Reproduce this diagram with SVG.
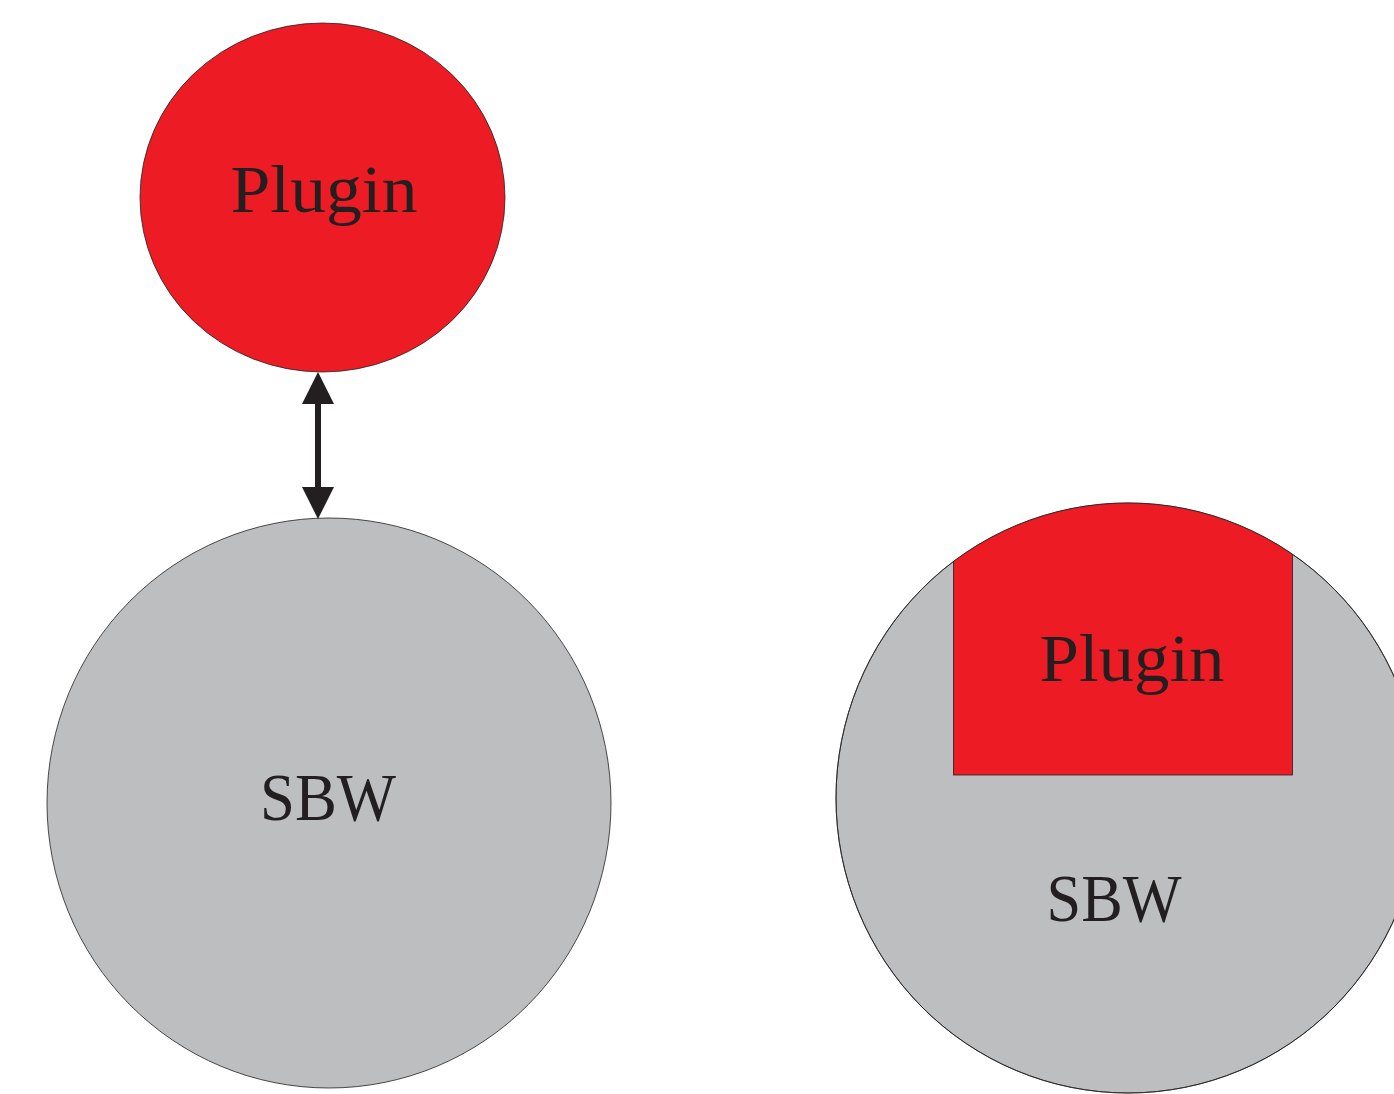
<svg xmlns="http://www.w3.org/2000/svg" width="1394" height="1094" viewBox="0 0 1394 1094">
<style>
.red{fill:#ed1c24;stroke:#231f20;stroke-width:0.8}
.gray{fill:#bcbec0;stroke:#231f20;stroke-width:0.8}
.lbl{font-family:"Liberation Serif","DejaVu Serif",serif;font-size:68px;fill:#231f20}
</style>
<defs>
<clipPath id="rc"><ellipse cx="1128" cy="798" rx="292" ry="295"/></clipPath>
</defs>
<rect width="1394" height="1094" fill="#fff"/>
<g id="plugin-top">
<ellipse class="red" cx="322.5" cy="197.5" rx="182.5" ry="174.5"/>
<text class="lbl" x="324" y="212" text-anchor="middle" textLength="187" lengthAdjust="spacingAndGlyphs">Plugin</text>
</g>
<g id="sbw-left">
<ellipse class="gray" cx="329" cy="803" rx="282" ry="285"/>
<text class="lbl" x="328" y="820" text-anchor="middle" textLength="136" lengthAdjust="spacingAndGlyphs">SBW</text>
</g>
<g id="sbw-right">
<ellipse class="gray" cx="1128" cy="798" rx="292" ry="295"/>
<rect class="red" x="953.5" y="480" width="339" height="295" clip-path="url(#rc)"/>
<ellipse cx="1128" cy="798" rx="292" ry="295" fill="none" stroke="#231f20" stroke-width="0.8"/>
<text class="lbl" x="1132" y="681" text-anchor="middle" textLength="185" lengthAdjust="spacingAndGlyphs">Plugin</text>
<text class="lbl" x="1114" y="921" text-anchor="middle" textLength="135" lengthAdjust="spacingAndGlyphs">SBW</text>
</g>
<g id="connectors" fill="#231f20">
<rect x="315" y="400" width="6" height="90"/>
<polygon points="318,372 334,404 302,404"/>
<polygon points="318,519 334,487 302,487"/>
</g>
</svg>
